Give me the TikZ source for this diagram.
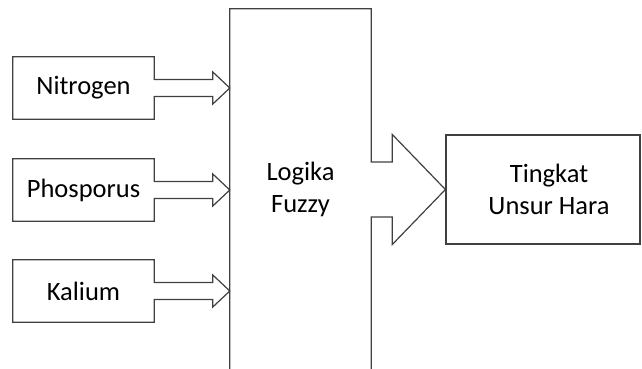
\documentclass[tikz,border=0pt]{standalone}
\usepackage{fontspec}
\setmainfont{Carlito}
\usetikzlibrary{calc}
\tikzset{
  outl/.style={draw=black!75, line width=1.2pt, line join=miter},
  inbox/.style={minimum width=141pt, minimum height=62pt, inner sep=0pt, font=\fontsize{26.5}{32}\selectfont},
  lbl/.style={align=center, inner sep=0pt, font=\fontsize{26.5}{32}\selectfont}
}
\begin{document}
\begin{tikzpicture}[x=1pt,y=1pt]
\useasboundingbox (0,0) rectangle (642,369);
% main fuzzy block (frame only, outline drawn below)
\node[minimum width=141pt, minimum height=360pt, inner sep=0pt] (fz) at (300.5,180) {};
\node[lbl] (fzt) at (300.5,180) {Logika\\Fuzzy};
% output block
\node[outl, minimum width=194pt, minimum height=109pt, inner sep=0pt] (tg) at (543,179.5) {};
\node[lbl] (tgt) at (549,180) {Tingkat\\Unsur Hara};
% input blocks
\node[inbox] (n) at (83.5,281) {Nitrogen};
\node[inbox] (p) at (83.5,179) {Phosporus};
\node[inbox] (k) at (83.5,78) {Kalium};
% main block outline with big arrow
\coordinate (bt) at (fz.east |- tg.west);
\draw[outl] (fz.south west) -- (fz.north west) -- (fz.north east)
  -- ([yshift=27.5pt]bt) -- ([xshift=21pt,yshift=27.5pt]bt)
  -- ([xshift=21pt]bt |- tg.north) -- (tg.west)
  -- ([xshift=21pt]bt |- tg.south) -- ([xshift=21pt,yshift=-27.5pt]bt)
  -- ([yshift=-27.5pt]bt) -- (fz.south east);
% input outlines with arrows
\foreach \b in {n,p,k}{
  \coordinate (\b t) at (fz.west |- \b.east);
  \draw[outl] (\b.north east) -- ([yshift=8.5pt]\b.east)
    -- ([xshift=-17pt,yshift=8.5pt]\b t) -- ([xshift=-17pt,yshift=16pt]\b t)
    -- (\b t) -- ([xshift=-17pt,yshift=-16pt]\b t)
    -- ([xshift=-17pt,yshift=-8.5pt]\b t) -- ([yshift=-8.5pt]\b.east)
    -- (\b.south east) -- (\b.south west) -- (\b.north west) -- cycle;
}
\end{tikzpicture}
\end{document}
